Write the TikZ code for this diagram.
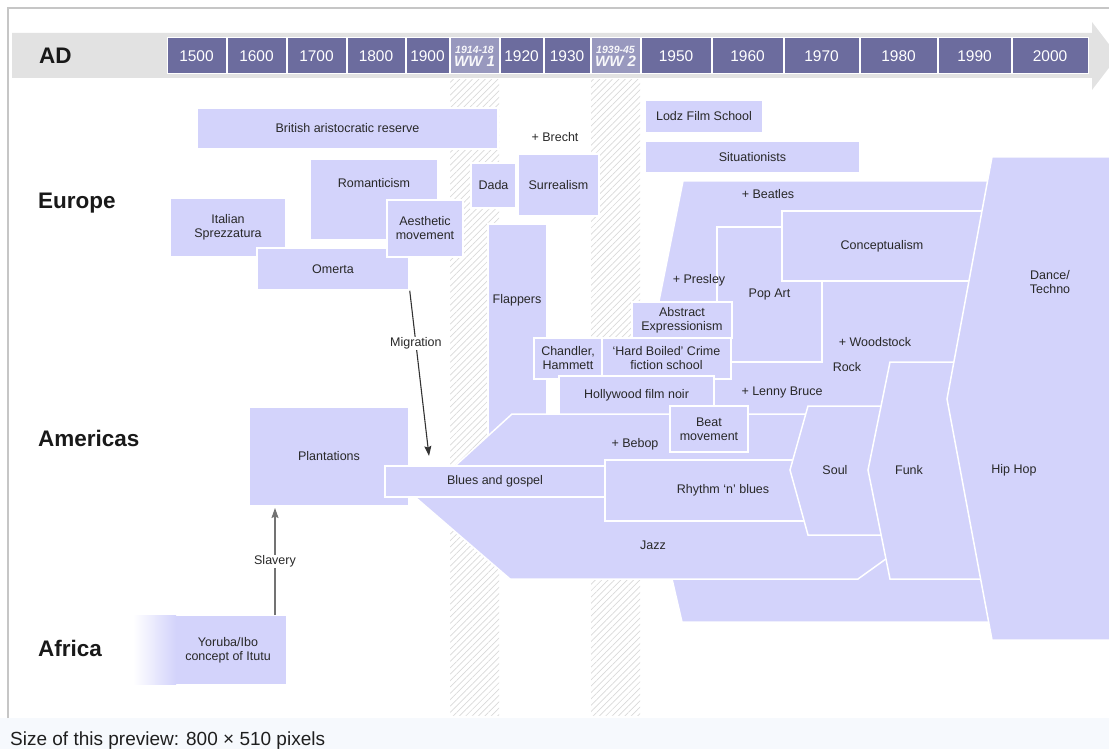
\documentclass[tikz,border=0pt]{standalone}
\usepackage{fontspec}
\setmainfont{Liberation Sans}
\usetikzlibrary{arrows.meta, patterns.meta}
\definecolor{lav}{RGB}{211,211,251}
\definecolor{yearfill}{RGB}{108,108,158}
\definecolor{warfill}{RGB}{152,152,190}
\definecolor{bandgray}{RGB}{226,226,226}
\definecolor{ink}{RGB}{40,40,40}
\definecolor{wikibg}{RGB}{246,249,253}
\tikzset{
x=1pt, y=-1pt, % one unit is one pixel of the chart, counted downwards
>={Stealth[length=10pt, width=7pt, inset=1.5pt]}, % arrow heads
dim/.style 2 args={minimum width=#1pt, minimum height=#2pt}, % size of a box
box/.style={draw=white, line width=1.5pt, fill=lav, inner sep=0pt, text=ink, font=\fontsize{12.5}{14}\selectfont, align=center}, % a movement
blob/.style={draw=white, line width=1.5pt, fill=lav, line join=miter}, % a movement with slanted sides
lbl/.style={text=ink, font=\fontsize{12.5}{14}\selectfont, align=center, inner sep=1pt}, % free text
year/.style={draw=white, line width=1pt, fill=yearfill, inner sep=0pt, minimum height=36pt, text=white, font=\fontsize{15.5}{17}\selectfont}, % one step of the time axis
war/.style={year, fill=warfill, align=center, text=white!92!warfill, font=\bfseries\itshape}, % the two wars
region/.style={anchor=base west, inner sep=0pt, text=black!90, font=\bfseries\fontsize{22.5}{26}\selectfont},
hatch/.style={pattern={Lines[angle=45, distance=4.5pt, line width=0.7pt]}, pattern color=gray!30},
arr/.style={->, line width=1.1pt},
}

\begin{document}
\begin{tikzpicture}
\useasboundingbox (0,0) rectangle (1109,749);
% frame and caption strip
\fill[wikibg] (0,718) rectangle (1109,749);
\draw[gray!45, line width=1.5pt] (8,718) -- (8,8) -- (1109,8);
\node[anchor=base west, inner sep=0pt, text=black!88, font=\fontsize{19}{21}\selectfont] (caption) at (10,745) {Size of this preview: 800 × 510 pixels};

% war columns
\fill[hatch] (450,80) rectangle (499,715);
\fill[hatch] (591,80) rectangle (640,715);

% time axis
\fill[bandgray] (12,33) -- (1092,33) -- (1092,22) -- (1118,56) -- (1092,90) -- (1092,78) -- (12,78) -- cycle;
\node[region] (ad) at (39,64) {AD};
\node[year, minimum width=59pt] (y1500) at (196.5,56) {1500};
\node[year, minimum width=59pt] (y1600) at (256.5,56) {1600};
\node[year, minimum width=59pt] (y1700) at (316.5,56) {1700};
\node[year, minimum width=58pt] (y1800) at (376,56) {1800};
\node[year, minimum width=43pt] (y1900) at (427.5,56) {1900};
\node[war, minimum width=49pt] (ww1) at (474.5,56) {\fontsize{10.5}{10}\selectfont 1914-18\\[1pt]\fontsize{15}{13}\selectfont WW 1};
\node[year, minimum width=43pt] (y1920) at (521.5,56) {1920};
\node[year, minimum width=46pt] (y1930) at (567,56) {1930};
\node[war, minimum width=49pt] (ww2) at (615.5,56) {\fontsize{10.5}{10}\selectfont 1939-45\\[1pt]\fontsize{15}{13}\selectfont WW 2};
\node[year, minimum width=70pt] (y1950) at (676,56) {1950};
\node[year, minimum width=71pt] (y1960) at (747.5,56) {1960};
\node[year, minimum width=75pt] (y1970) at (821.5,56) {1970};
\node[year, minimum width=77pt] (y1980) at (898.5,56) {1980};
\node[year, minimum width=73pt] (y1990) at (974.5,56) {1990};
\node[year, minimum width=76pt] (y2000) at (1050,56) {2000};

% regions
\node[region] (europe) at (38,208) {Europe};
\node[region] (americas) at (38,446) {Americas};
\node[region] (africa) at (38,656) {Africa};

% Europe
\node[box, dim={301}{41}] (brit) at (347.5,128.5) {British aristocratic reserve};
\node[box, dim={128}{81}] (roman) at (374,199.5) {};
\node[lbl] (romantxt) at (374,183) {Romanticism};
\node[box, dim={116}{59}] (italy) at (228,227.5) {Italian\\Sprezzatura};
\node[box, dim={152}{42}] (omerta) at (333,269) {Omerta};
\node[box, dim={76}{57}] (aesth) at (425,228.5) {Aesthetic\\movement};
\node[box, dim={45}{45}] (dada) at (493.5,185.5) {Dada};
\node[box, dim={81}{62}] (surreal) at (558.5,185) {Surrealism};
\node[lbl] (brecht) at (555,137) {+ Brecht};
\node[box, dim={118}{33}] (lodz) at (704,116.5) {Lodz Film School};
\node[box, dim={215}{32}] (situ) at (752.5,157) {Situationists};

% Americas
\node[box, dim={59}{216}] (flap) at (517.5,332) {};
\node[lbl] (flaptxt) at (517,300) {Flappers};
\filldraw[blob] (683,181) -- (1000,181) -- (1000,622) -- (682,622) -- (672,579) -- (659,414) -- (659,301) -- cycle;
\node[box, dim={105}{135}] (popart) at (769.5,294.5) {Pop Art};
\node[box, dim={200}{70}] (concept) at (882,246) {Conceptualism};
\node[lbl] (beatles) at (768,194) {+ Beatles};
\node[lbl] (presley) at (699,280) {+ Presley};
\node[lbl] (woodstock) at (875,342) {+ Woodstock};
\node[lbl] (rock) at (847,367) {Rock};
\node[lbl] (lenny) at (782,392) {+ Lenny Bruce};
\node[box, dim={100}{36}] (abstract) at (682,320) {Abstract\\Expressionism};
\node[box, dim={68}{41}] (chandler) at (568,358.5) {Chandler,\\Hammett};
\node[box, dim={129}{41}] (hardboiled) at (666.5,358.5) {`Hard Boiled' Crime\\fiction school};
\node[box, dim={155}{39}] (noir) at (636.5,395.5) {Hollywood film noir};
\filldraw[blob] (512,414) -- (850,414) -- (890,556) -- (858,579) -- (510,579) -- (415,497) -- (415,468) -- (455,466) -- cycle;
\node[lbl] (jazz) at (653,545) {Jazz};
\node[lbl] (bebop) at (635,444) {+ Bebop};
\node[box, dim={78}{46}] (beat) at (709,429) {Beat\\movement};
\node[box, dim={160}{99}] (plant) at (329,456.5) {Plantations};
\node[box, dim={201}{61}] (rnb) at (705.5,490.5) {};
\node[lbl] (rnbtxt) at (723,490) {Rhythm `n' blues};
\node[box, dim={220}{31}] (blues) at (495,481.5) {Blues and gospel};
\filldraw[blob] (808,406) -- (900,406) -- (900,535) -- (808,535) -- (790,470) -- cycle;
\node[lbl] (soul) at (835,470) {Soul};
\filldraw[blob] (890,362) -- (960,362) -- (990,579) -- (890,579) -- (868,470) -- cycle;
\node[lbl] (funk) at (909,470) {Funk};
\filldraw[blob] (992,157) -- (1115,157) -- (1115,640) -- (992,640) -- (947,399) -- cycle;
\node[lbl] (dance) at (1050,282) {Dance/\\Techno};
\node[lbl] (hiphop) at (1014,470) {Hip Hop};

% Africa
\node[box, dim={153}{70}] (yoruba) at (210.5,650) {};
\shade[left color=white, right color=lav] (133,615.7) rectangle (176,684.3);
\node[lbl] (yorubatxt) at (228,650) {Yoruba/Ibo\\concept of Itutu};

% movements of people
\coordinate (migtip) at (429,456);
\draw[arr, black!80] (omerta.south east) -- node[lbl, fill=white, pos=0.32] (migration) {Migration} (migtip);
\coordinate (slavebase) at (275,615);
\coordinate (slavetip) at (275,508);
\draw[arr, black!55] (slavebase) -- node[lbl, fill=white] (slavery) {Slavery} (slavetip);
\end{tikzpicture}
\end{document}
